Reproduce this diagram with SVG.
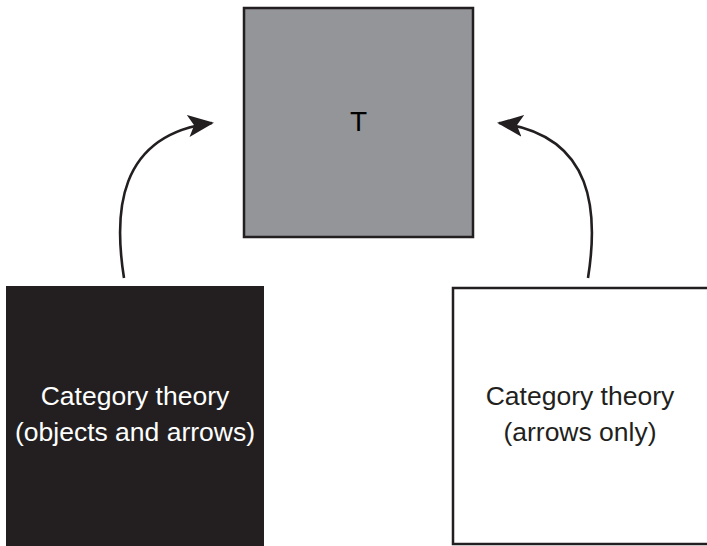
<svg xmlns="http://www.w3.org/2000/svg" width="707" height="546" viewBox="0 0 707 546">
<defs>
<style>
.lbl{font-family:"Liberation Sans","DejaVu Sans",sans-serif;font-size:26.5px;text-anchor:middle}
.conn{fill:none;stroke:#231f20;stroke-width:2.6}
</style>
<marker id="ah" viewBox="0 0 26 22" refX="24" refY="11" markerWidth="26" markerHeight="22" markerUnits="userSpaceOnUse" orient="auto">
<path d="M0,0 L26,11 L0,22 L6,11 Z" fill="#231f20"/>
</marker>
</defs>
<rect width="707" height="546" fill="#ffffff"/>
<g id="node-T">
<rect x="244" y="8" width="229" height="229" fill="#939598" stroke="#231f20" stroke-width="2.5"/>
<text class="lbl" x="358.5" y="131" fill="#000" style="font-size:28px">T</text>
</g>
<g id="node-objects">
<rect x="6" y="286" width="258" height="262" fill="#231f20"/>
<text class="lbl" x="135" y="405" fill="#ffffff">Category theory</text>
<text class="lbl" x="135" y="441" fill="#ffffff">(objects and arrows)</text>
</g>
<g id="node-arrows">
<rect x="453" y="288" width="260" height="256" fill="#ffffff" stroke="#231f20" stroke-width="2.5"/>
<text class="lbl" x="580" y="405" fill="#231f20">Category theory</text>
<text class="lbl" x="580" y="441" fill="#231f20">(arrows only)</text>
</g>
<g id="connectors">
<path class="conn" d="M124,278 C114,215 116,135 212,123" marker-end="url(#ah)"/>
<path class="conn" d="M588,278 C598,215 596,135 499,123" marker-end="url(#ah)"/>
</g>
</svg>
